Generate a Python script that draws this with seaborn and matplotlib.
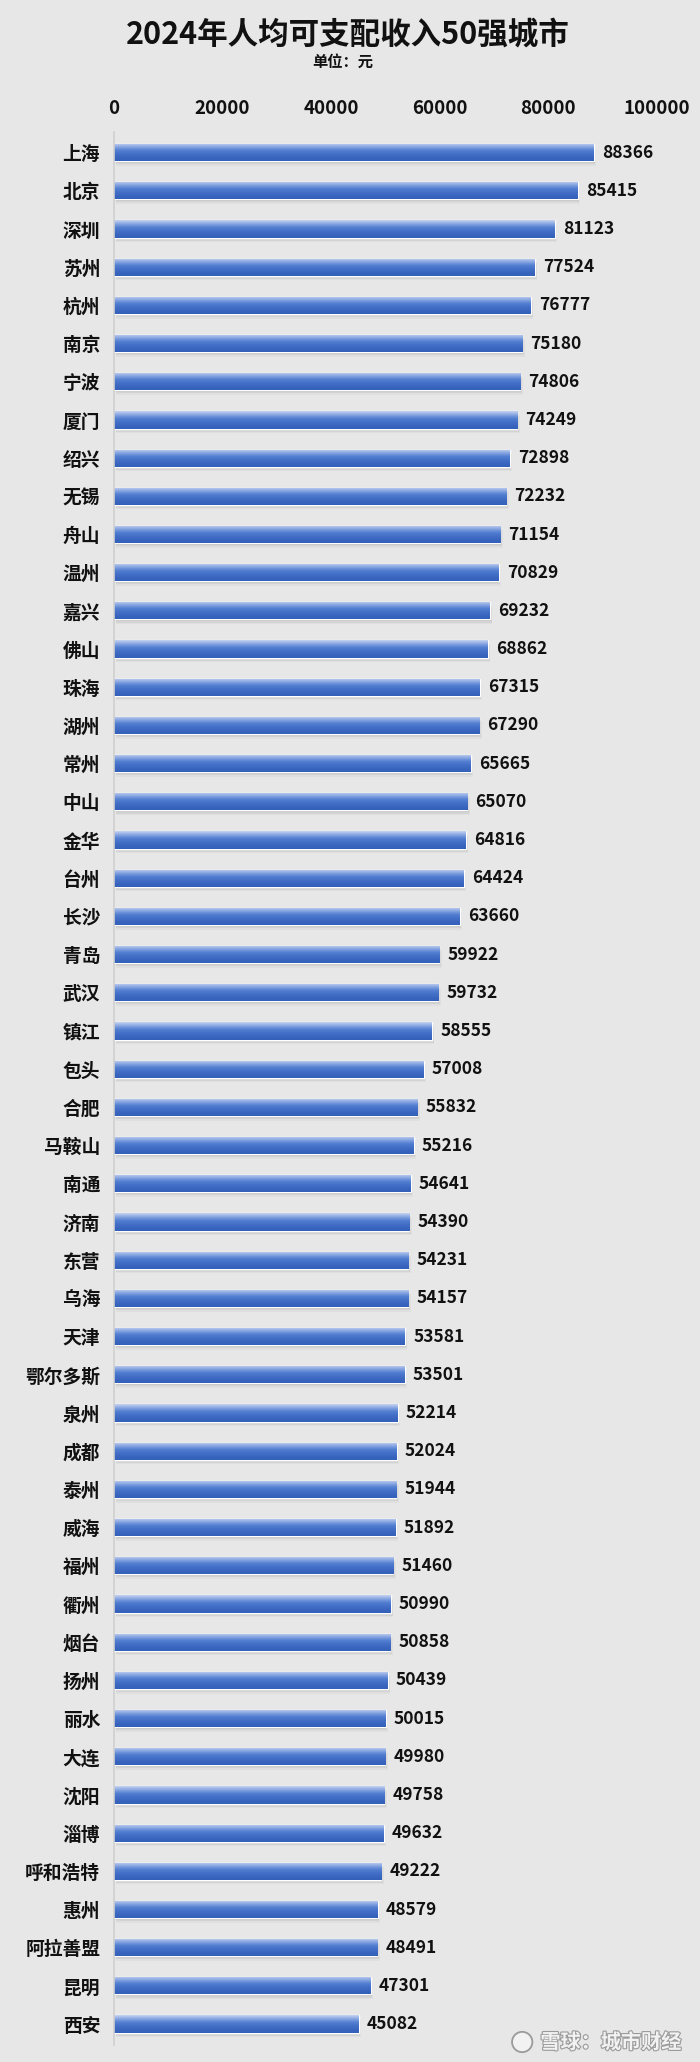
import numpy as np
import pandas as pd
import matplotlib
matplotlib.use("Agg")
import matplotlib.pyplot as plt
import seaborn as sns
from matplotlib.colors import LinearSegmentedColormap
from matplotlib.patches import Rectangle, Ellipse
import matplotlib.patheffects as pe

cities = ["上海", "北京", "深圳", "苏州", "杭州", "南京", "宁波", "厦门", "绍兴", "无锡",
          "舟山", "温州", "嘉兴", "佛山", "珠海", "湖州", "常州", "中山", "金华", "台州",
          "长沙", "青岛", "武汉", "镇江", "包头", "合肥", "马鞍山", "南通", "济南", "东营",
          "乌海", "天津", "鄂尔多斯", "泉州", "成都", "泰州", "威海", "福州", "衢州", "烟台",
          "扬州", "丽水", "大连", "沈阳", "淄博", "呼和浩特", "惠州", "阿拉善盟", "昆明", "西安"]
income = [88366, 85415, 81123, 77524, 76777, 75180, 74806, 74249, 72898, 72232,
          71154, 70829, 69232, 68862, 67315, 67290, 65665, 65070, 64816, 64424,
          63660, 59922, 59732, 58555, 57008, 55832, 55216, 54641, 54390, 54231,
          54157, 53581, 53501, 52214, 52024, 51944, 51892, 51460, 50990, 50858,
          50439, 50015, 49980, 49758, 49632, 49222, 48579, 48491, 47301, 45082]
x_ticks = [0, 20000, 40000, 60000, 80000, 100000]

df = pd.DataFrame({"city": cities, "income": income})

sns.set_theme(style="white")
plt.rcParams["font.family"] = ["Noto Sans CJK SC", "DejaVu Sans"]
plt.rcParams["font.weight"] = "bold"

bg = "#e7e7e7"
fig = plt.figure(figsize=(7, 20.62), dpi=100, facecolor=bg)
ax = fig.add_axes([0.1629, 0.0082, 0.9386 - 0.1629, 0.9362 - 0.0082])
ax.set_facecolor(bg)

sns.barplot(data=df, x="income", y="city", orient="h", color="#4472c4",
            width=0.45, ax=ax, errorbar=None)

# gradient fill + soft shadow for each bar
grad = LinearSegmentedColormap.from_list(
    "g", ["#c4d2f0", "#8aa7e2", "#5580d2", "#4470c8", "#3a66bf", "#3360b8"])
gimg = np.linspace(0, 1, 64).reshape(-1, 1)
for p in list(ax.patches):
    x0, y0 = p.get_x(), p.get_y()
    w, h = p.get_width(), p.get_height()
    for k, a in enumerate([0.12, 0.08, 0.05]):
        ax.add_patch(Rectangle((x0 + 150 * (k + 1), y0 + 0.04 * (k + 1)), w, h,
                               color="#505050", alpha=a, lw=0, zorder=0.5))
    im = ax.imshow(gimg, extent=[x0, x0 + w, y0 + h, y0], cmap=grad,
                   aspect="auto", zorder=2)
    im.set_clip_path(p)
    p.set_zorder(1.5)
    ax.text(x0 + w + 1500, y0 + h / 2, f"{int(w)}", va="center", ha="left",
            fontsize=12.5, fontweight="heavy", color="#111111")

ax.set_xlim(0, 100000)
ax.set_ylim(49.55, -0.55)
ax.set_xticks(x_ticks)
ax.set_xticklabels([str(t) for t in x_ticks])
ax.xaxis.tick_top()
ax.tick_params(axis="x", length=0, pad=10, labelsize=13.5, colors="#111111")
ax.tick_params(axis="y", length=0, pad=10, labelsize=13.5, colors="#111111")
for lab in ax.get_xticklabels() + ax.get_yticklabels():
    lab.set_fontweight("heavy")
ax.set_xlabel("")
ax.set_ylabel("")
for s in ["top", "right", "bottom"]:
    ax.spines[s].set_visible(False)
ax.spines["left"].set_color("#cfcfcf")
ax.spines["left"].set_linewidth(1.2)

fig.text(0.497, 1 - 35 / 2062, "2024年人均可支配收入50强城市", ha="center", va="center",
         fontsize=22, fontweight="heavy", color="#111111")
fig.text(0.49, 1 - 62 / 2062, "单位：元", ha="center", va="center",
         fontsize=11, fontweight="heavy", color="#111111")

# watermark
fig.text(0.772, 1 - 2042 / 2062, "雪球：城市财经", ha="left", va="center",
         fontsize=14.5, color="#f2f2f2",
         path_effects=[pe.withStroke(linewidth=1.6, foreground="#9a9a9a")])
fig.patches.append(Ellipse((0.746, 1 - 2042 / 2062), 0.029, 0.029 * 700 / 2062,
                           transform=fig.transFigure,
                           facecolor="#f2f2f2", edgecolor="#9a9a9a", lw=1.3))

fig.savefig("out.png", dpi=100, facecolor=bg)
